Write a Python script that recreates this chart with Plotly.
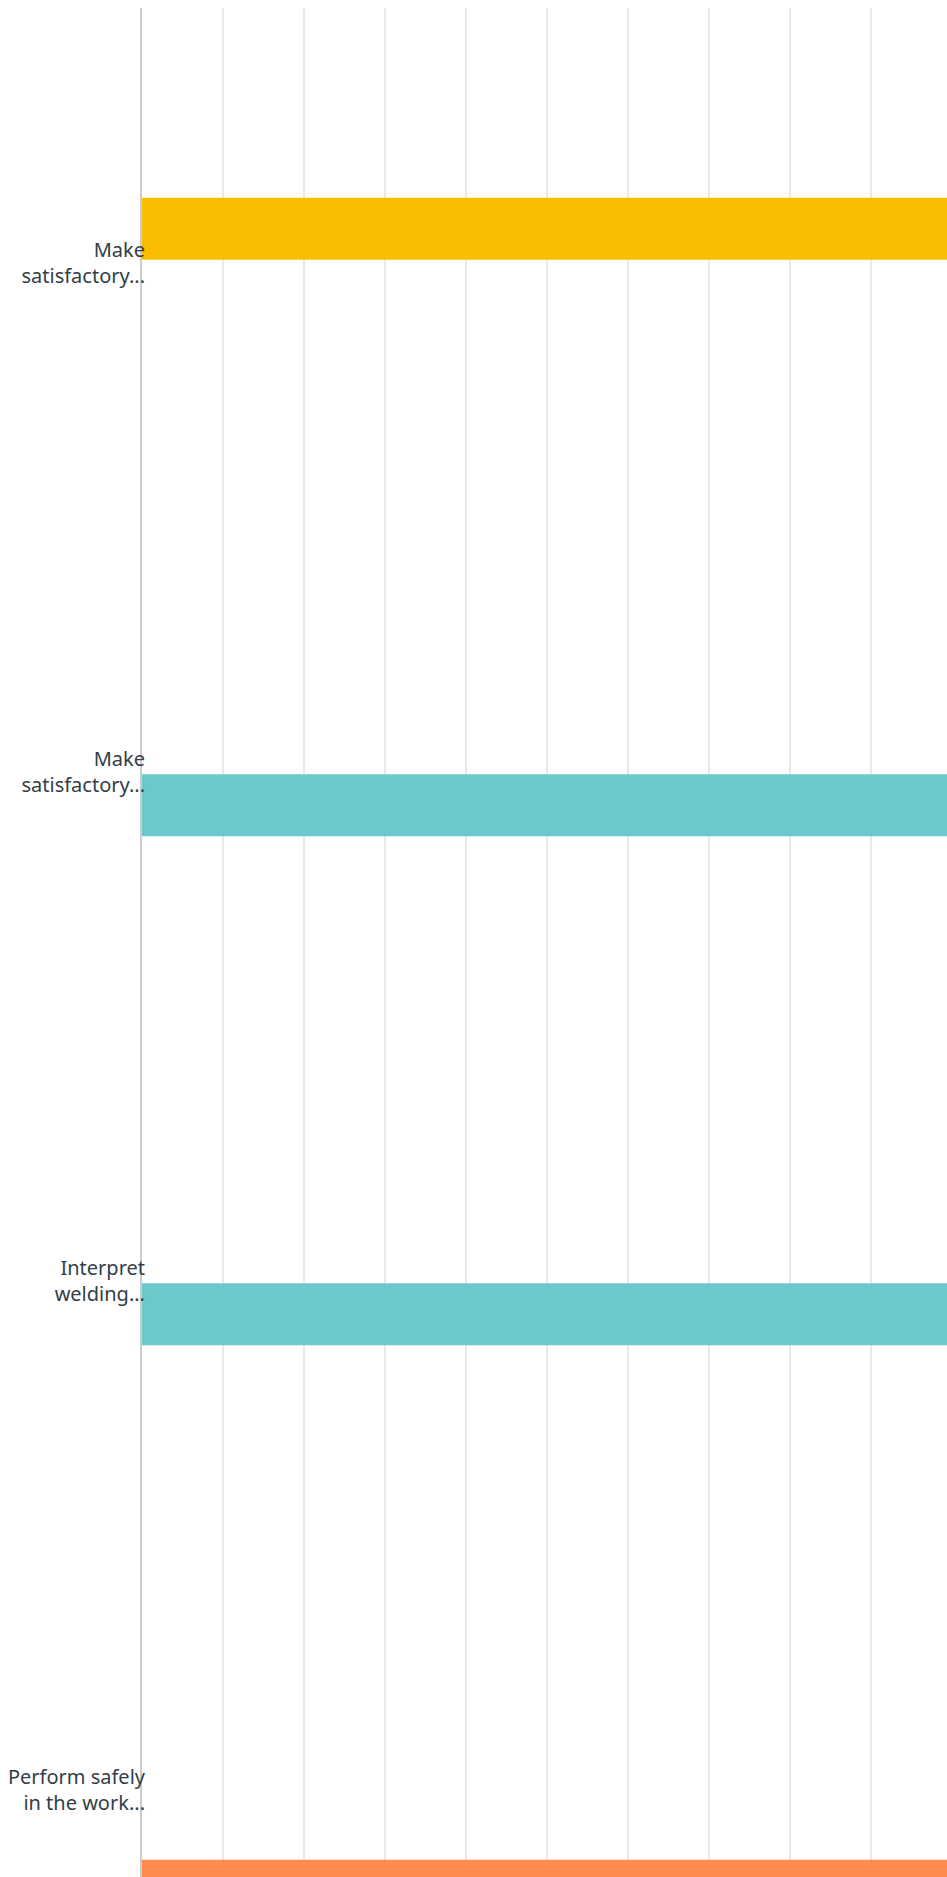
import plotly.graph_objects as go

categories = ["Make<br>satisfactory...", "Make<br>satisfactory...", "Interpret<br>welding...", "Perform safely<br>in the work..."]
series_names = ["Option 1", "Option 2", "Option 3", "Option 4", "Option 5", "Option 6"]
series_colors = ["#00BF6F", "#507CB6", "#F9BE00", "#6BC8CD", "#FF8B4F", "#7FA8D7"]
series_values = [
    [0, 0, 0, 0],
    [0, 0, 0, 0],
    [100, 0, 0, 0],
    [0, 100, 100, 0],
    [0, 0, 0, 100],
    [0, 0, 0, 0],
]
positions = [0, 1, 2, 3]

fig = go.Figure()
for name, color, vals in zip(series_names, series_colors, series_values):
    fig.add_trace(go.Bar(
        y=positions, x=vals, orientation="h", name=name,
        marker=dict(color=color, line=dict(width=0)),
        hoverinfo="x+name",
    ))

W, H = 947, 1877
top = 8
left = 141.7
plot_w = W - left
grid_px = 81.03
x_max = plot_w / grid_px * 10
cat_px = 509
y_bottom = -0.5 + (H - top) / cat_px

fig.update_layout(
    width=W, height=H,
    margin=dict(l=left, r=0, t=top, b=0, pad=0),
    barmode="group", bargap=0.204, bargroupgap=0.081,
    showlegend=False,
    plot_bgcolor="white", paper_bgcolor="white",
    font=dict(family="Noto Sans", size=20, color="#333E48"),
)
fig.update_xaxes(
    range=[0, x_max], dtick=10, tick0=0,
    showgrid=True, gridcolor="#e8e8e8", gridwidth=1.5,
    zeroline=False, showticklabels=False, showline=False,
)
fig.update_yaxes(
    range=[y_bottom, -0.5], tickvals=positions, ticktext=categories,
    showgrid=False, zeroline=False,
    showline=True, linecolor="#cccccc", linewidth=2,
    ticks="", ticklabelstandoff=-9,
)
fig.write_html(
    "out.html",
    config={"displayModeBar": False},
    post_script="document.body.style.margin='0';document.body.style.overflow='hidden';",
)
